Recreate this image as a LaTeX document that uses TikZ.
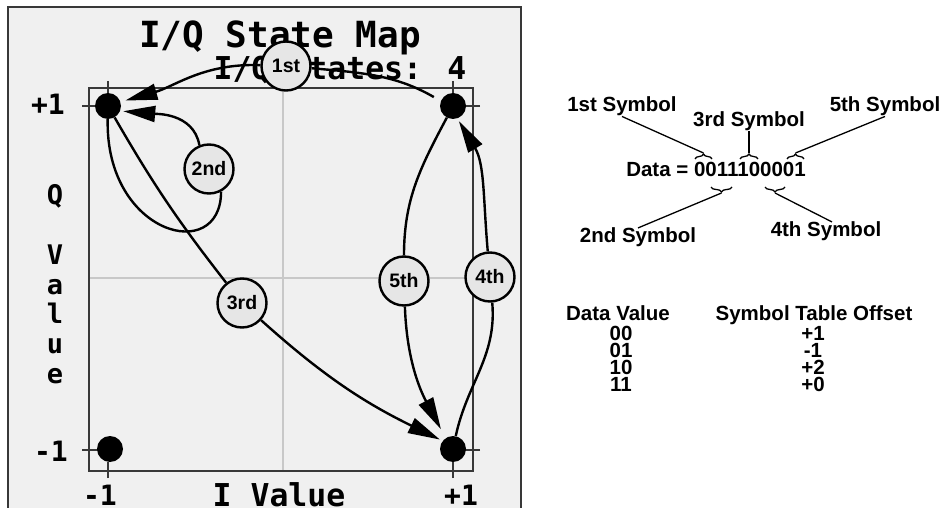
\documentclass[tikz,border=0pt]{standalone}
\usepackage{fontspec}
\setmainfont{Liberation Sans}
\newfontfamily\scrfont{DejaVu Sans Mono}
\usepackage{tikz}
\usetikzlibrary{arrows.meta,decorations.pathreplacing}
\usepackage{xcolor}
\definecolor{panel}{HTML}{F0F0F0}
\definecolor{gridline}{HTML}{C8C8C8}
\definecolor{symfill}{HTML}{E6E6E6}
\definecolor{frameline}{HTML}{383838}

\begin{document}
\begin{tikzpicture}[x=1pt,y=1pt,
  scr/.style={font=\scrfont\bfseries\fontsize{#1}{#1}\selectfont,inner sep=0pt,anchor=base},
  state/.style={circle,fill=black,minimum size=26pt,inner sep=0pt},
  sym/.style={circle,draw,line width=2.4pt,fill=symfill,minimum size=49pt,inner sep=0pt,
    font=\bfseries\fontsize{19.5}{20}\selectfont},
  hop/.style={line width=2.4pt},
  hoparr/.style={hop,-{Triangle[length=32pt,width=16pt]}},
  txt/.style={font=\bfseries\fontsize{20.5}{21}\selectfont,inner sep=0pt,anchor=base},
  lead/.style={line width=1.3pt},
  brc/.style={decorate,decoration={brace,amplitude=5pt},line width=1.3pt}]
  \useasboundingbox (0,0) rectangle (946,507);
  \fill[white] (0,0) rectangle (946,507);
  % screen panel
  \draw[frameline,line width=1.5pt,fill=panel] (8,-10) rectangle (521,500);
  \draw[gridline,line width=2pt] (283,36) -- (283,419) (89,229) -- (473,229);
  \draw[frameline,line width=2.2pt] (89,36) rectangle (473,419);
  \foreach \yy in {401,57} {
    \draw[frameline,line width=1.5pt] (82,\yy) -- (100,\yy) (480,\yy) -- (462,\yy);
  }
  \foreach \xx in {108,453} {
    \draw[frameline,line width=1.5pt] (\xx,426) -- (\xx,410) (\xx,29) -- (\xx,45);
  }
  \node[scr=36] (title) at (280,459) {I/Q State Map};
  \node[scr=31.5] (nstates) at (340,427) {I/Q States: 4};
  \foreach \ch/\yy [count=\i] in {Q/302,V/243,a/213,l/184,u/154,e/124} {
    \node[scr=27] (ql\i) at (55,\yy) {\ch};
  }
  \node[scr=28] (qp) at (48,392) {+1};
  \node[scr=28] (qm) at (51,46) {-1};
  \node[scr=28] (im) at (100,2) {-1};
  \node[scr=28] (ip) at (461,2) {+1};
  \node[scr=31.5] (ilab) at (279,1) {I Value};
  % states
  \node[state] (mp) at (108,401) {};
  \node[state] (pp) at (453,401) {};
  \node[state] (mm) at (110,58) {};
  \node[state] (pm) at (453,58) {};
  % symbols
  \node[sym] (s1) at (286,441) {1st};
  \node[sym] (s2) at (209,338) {2nd};
  \node[sym] (s3) at (242,204) {3rd};
  \node[sym] (s5) at (404,226) {5th};
  \node[sym] (s4) at (490,230) {4th};
  \draw[hop,shorten <=8pt] (pp.158) to[out=150,in=-5] (s1);
  \draw[hoparr,shorten >=5pt] (s1) to[out=178,in=16] (mp.18);
  \draw[hop] (mp) .. controls (105,272) and (221,242) .. (s2.-62);
  \draw[hoparr,shorten >=3pt] (s2.112) to[out=100,in=-5] (mp.-22);
  \draw[hop] (mp) to[out=-60,in=128] (s3);
  \draw[hoparr,shorten >=3pt] (s3) to[out=-42,in=154] (pm.142);
  \draw[hop] (pp) to[out=-118,in=90] (s5);
  \draw[hoparr,shorten >=10pt] (s5) to[out=-88,in=118] (pm.124);
  \draw[hop] (pm) to[out=78,in=-85] (s4);
  \draw[hoparr,shorten >=3pt] (s4) to[out=95,in=-59] (pp.-71);
  % data word
  \node[txt] (sym1) at (622,395) {1st Symbol};
  \node[txt] (sym3) at (749,380) {3rd Symbol};
  \node[txt] (sym5) at (885,395) {5th Symbol};
  \node[txt,anchor=base east] (data) at (806,330) {Data = 0011100001};
  \node[txt] (sym2) at (638,264) {2nd Symbol};
  \node[txt] (sym4) at (826,270) {4th Symbol};
  \draw[brc] (695,348) -- (712,348);
  \draw[brc] (740,348) -- (758,348);
  \draw[brc] (787,348) -- (804,348);
  \draw[brc] (732,320) -- (711,320);
  \draw[brc] (785,320) -- (765,320);
  \coordinate (b1) at (703.5,354);
  \coordinate (b3) at (749,354);
  \coordinate (b5) at (795.5,354);
  \coordinate (b2) at (721.5,314);
  \coordinate (b4) at (775,314);
  \draw[lead] (sym1.south) -- (b1);
  \draw[lead] (sym3.south) -- (b3);
  \draw[lead] (sym5.south) -- (b5);
  \draw[lead] (b2) -- (sym2.north);
  \draw[lead] (b4) -- ([xshift=6pt]sym4.north);
  % offset table
  \node[txt] (hdv) at (618,187) {Data Value};
  \node[txt] (hst) at (814,187) {Symbol Table Offset};
  \foreach \dv/\off/\yy [count=\i] in {00/+1/167,01/-1/150,10/+2/133,11/+0/116} {
    \node[txt] (dv\i) at (621,\yy) {\dv};
    \node[txt] (off\i) at (813,\yy) {\off};
  }
\end{tikzpicture}
\end{document}
